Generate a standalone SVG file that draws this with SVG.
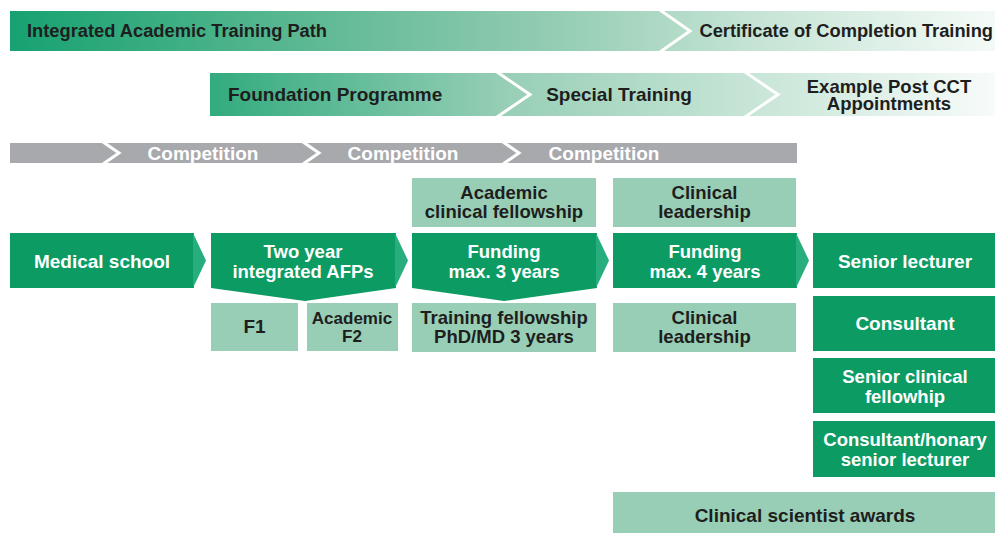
<svg xmlns="http://www.w3.org/2000/svg" width="995" height="533" viewBox="0 0 995 533">
<defs>
<linearGradient id="g1" x1="10" y1="0" x2="995" y2="0" gradientUnits="userSpaceOnUse">
<stop offset="0" stop-color="#17a271"/>
<stop offset="0.3" stop-color="#5cb892"/>
<stop offset="0.55" stop-color="#93ccb3"/>
<stop offset="0.75" stop-color="#c4e3d4"/>
<stop offset="1" stop-color="#f4faf7"/>
</linearGradient>
<linearGradient id="g2" x1="210" y1="0" x2="995" y2="0" gradientUnits="userSpaceOnUse">
<stop offset="0" stop-color="#32ab7e"/>
<stop offset="0.38" stop-color="#98cfb6"/>
<stop offset="0.7" stop-color="#c9e6d8"/>
<stop offset="1" stop-color="#f7fbf9"/>
</linearGradient>
<style>
text{font-family:"Liberation Sans",Arial,sans-serif;font-weight:bold;font-size:19px}
.two{font-size:18.5px}
.dk{fill:#1e1e1e}
.wt{fill:#ffffff}
.c{text-anchor:middle}
.green{fill:#0b9b63}
.tip{fill:#27ad7e}
.light{fill:#97ceb5}
.grey{fill:#a8a9ac}
.chev{fill:none;stroke:#ffffff;stroke-width:3}
</style>
</defs>

<g id="bar-integrated">
<rect x="10" y="11" width="985" height="40" fill="url(#g1)"/>
<polyline class="chev" points="660,10 690,31 660,52"/>
<text class="dk" x="27" y="37" style="font-size:18.3px">Integrated Academic Training Path</text>
<text class="dk" x="993" y="37" text-anchor="end" style="font-size:18.3px">Certificate of Completion Training</text>
</g>

<g id="bar-programme">
<rect x="210" y="73" width="785" height="43" fill="url(#g2)"/>
<polyline class="chev" points="497,72 530,94.5 497,117"/>
<polyline class="chev" points="745,72 778,94.5 745,117"/>
<text class="dk" x="228" y="101">Foundation Programme</text>
<text class="dk c" x="619" y="101">Special Training</text>
<text class="dk c two" x="889" y="93">Example Post CCT</text>
<text class="dk c two" x="889" y="110">Appointments</text>
</g>

<g id="bar-competition">
<rect class="grey" x="10" y="143" width="787" height="20"/>
<polyline class="chev" points="103,142 119,153 103,164" stroke-width="2.5"/>
<polyline class="chev" points="303,142 319,153 303,164" stroke-width="2.5"/>
<polyline class="chev" points="503,142 519,153 503,164" stroke-width="2.5"/>
<text class="wt c" x="203" y="159.5">Competition</text>
<text class="wt c" x="403" y="159.5">Competition</text>
<text class="wt c" x="604" y="159.5">Competition</text>
</g>

<g id="connectors"></g>

<g id="medical-school">
<rect class="green" x="10" y="233" width="184" height="55"/>
<polygon class="tip" points="193,233 206,260.5 193,288"/>
<text class="wt c" x="102" y="267.5">Medical school</text>
</g>

<g id="afp">
<polygon class="green" points="211,233 396,233 396,288 305,301 211,288"/>
<polygon class="tip" points="395,233 408,260.5 395,288"/>
<text class="wt c two" x="303" y="257.5">Two year</text>
<text class="wt c two" x="303" y="277.5">integrated AFPs</text>
</g>

<g id="f1">
<rect class="light" x="211" y="303" width="87" height="48"/>
<text class="dk c" x="254.5" y="333">F1</text>
</g>

<g id="academic-f2">
<rect class="light" x="307" y="303" width="91" height="48"/>
<text class="dk c" x="352" y="324" style="font-size:17px">Academic</text>
<text class="dk c" x="352" y="342" style="font-size:17px">F2</text>
</g>

<g id="acf">
<rect class="light" x="412" y="178" width="184" height="49"/>
<text class="dk c two" x="504" y="199">Academic</text>
<text class="dk c two" x="504" y="217.5">clinical fellowship</text>
</g>

<g id="funding3">
<polygon class="green" points="412,233 597,233 597,288 504,301 412,288"/>
<polygon class="tip" points="596,233 609,260.5 596,288"/>
<text class="wt c two" x="504" y="257.5">Funding</text>
<text class="wt c two" x="504" y="277.5">max. 3 years</text>
</g>

<g id="training-fellowship">
<rect class="light" x="412" y="303" width="184" height="49"/>
<text class="dk c two" x="504" y="324">Training fellowship</text>
<text class="dk c two" x="504" y="342.5">PhD/MD 3 years</text>
</g>

<g id="clinical-leadership-top">
<rect class="light" x="613" y="178" width="183" height="49"/>
<text class="dk c two" x="704.5" y="199">Clinical</text>
<text class="dk c two" x="704.5" y="217.5">leadership</text>
</g>

<g id="funding4">
<rect class="green" x="613" y="233" width="184" height="55"/>
<polygon class="tip" points="796,233 809,260.5 796,288"/>
<text class="wt c two" x="705" y="257.5">Funding</text>
<text class="wt c two" x="705" y="277.5">max. 4 years</text>
</g>

<g id="clinical-leadership-bottom">
<rect class="light" x="613" y="303" width="183" height="49"/>
<text class="dk c two" x="704.5" y="324">Clinical</text>
<text class="dk c two" x="704.5" y="342.5">leadership</text>
</g>

<g id="senior-lecturer">
<rect class="green" x="813" y="233" width="182" height="55"/>
<text class="wt c" x="905" y="267.5">Senior lecturer</text>
</g>

<g id="consultant">
<rect class="green" x="813" y="296" width="182" height="55"/>
<text class="wt c" x="905" y="329.5">Consultant</text>
</g>

<g id="senior-clinical-fellowhip">
<rect class="green" x="813" y="358" width="182" height="55"/>
<text class="wt c two" x="905" y="383">Senior clinical</text>
<text class="wt c two" x="905" y="402.5">fellowhip</text>
</g>

<g id="consultant-honary">
<rect class="green" x="813" y="421" width="182" height="56"/>
<text class="wt c two" x="905" y="446">Consultant/honary</text>
<text class="wt c two" x="905" y="465.5">senior lecturer</text>
</g>

<g id="clinical-scientist-awards">
<rect class="light" x="613" y="492" width="382" height="41"/>
<text class="dk c" x="805" y="521.5">Clinical scientist awards</text>
</g>
</svg>
